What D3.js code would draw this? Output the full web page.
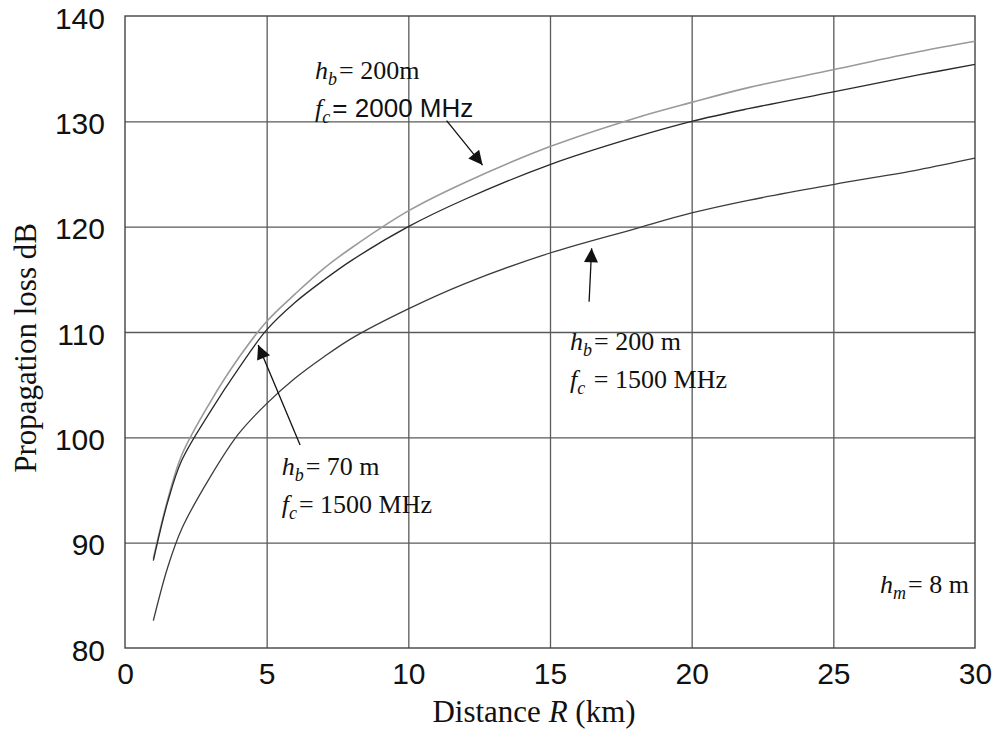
<!DOCTYPE html>
<html>
<head>
<meta charset="utf-8">
<script src="https://cdn.jsdelivr.net/npm/d3@7"></script>
<style>
body { margin: 0; background: #fff; }
.grid line { stroke: #5a5a5a; stroke-width: 1.3; }
.grid .domain { display: none; }
.tick text { font-family: "Liberation Sans", Arial, sans-serif; font-size: 30px; fill: #111; }
.frame { fill: none; stroke: #444; stroke-width: 1.4; }
.ann { font-family: "Liberation Serif", "Times New Roman", serif; font-size: 26px; fill: #111; }
.title { font-family: "Liberation Serif", "Times New Roman", serif; font-size: 31px; fill: #111; }
</style>
</head>
<body>
<script>
var WIDTH = 999, HEIGHT = 733;
var LEFT = 125, RIGHT = 975, TOP = 16, BOTTOM = 648;

// distance R in km
var distance = [1, 1.5, 2, 3, 4, 5, 6, 7, 8, 10, 12, 15, 18, 20, 22, 25, 28, 30];
// propagation loss (dB)
var lossHb200Fc2000 = [88.5, 94.0, 98.3, 103.3, 107.5, 111.0, 113.6, 116.0, 118.0, 121.5, 124.2, 127.6, 130.3, 131.8, 133.2, 134.9, 136.6, 137.6];
var lossHb70Fc1500 = [88.3, 93.8, 97.8, 102.4, 106.5, 110.2, 112.8, 114.9, 116.8, 120.0, 122.6, 125.9, 128.5, 130.0, 131.2, 132.8, 134.4, 135.4];
var lossHb200Fc1500 = [82.6, 87.6, 91.3, 96.2, 100.3, 103.2, 105.6, 107.6, 109.4, 112.2, 114.6, 117.5, 119.8, 121.3, 122.5, 124.0, 125.4, 126.5];

var xTicks = [0, 5, 10, 15, 20, 25, 30];
var yTicks = [80, 90, 100, 110, 120, 130, 140];

var _xScale, _yScale, _svg;

var createChart = function(){
    _xScale = d3.scaleLinear().domain([0, 30]).range([LEFT, RIGHT]);
    _yScale = d3.scaleLinear().domain([80, 140]).range([BOTTOM, TOP]);

    _svg = d3.select('body').append('svg')
        .attr('width', WIDTH)
        .attr('height', HEIGHT);

    var defs = _svg.append('defs');
    defs.append('marker')
        .attr('id', 'head')
        .attr('viewBox', '0 0 10 10')
        .attr('refX', 10).attr('refY', 5)
        .attr('markerUnits', 'userSpaceOnUse')
        .attr('markerWidth', 20).attr('markerHeight', 14)
        .attr('orient', 'auto')
        .append('path')
        .attr('d', 'M0,0 L10,5 L0,10 Z')
        .attr('fill', '#111');

    generateAxis();
    createLines();
    createAnnotations();
};

var generateAxis = function(){
    // vertical grid + x labels
    var xg = _svg.append('g')
        .attr('class', 'grid')
        .attr('transform', 'translate(0,' + BOTTOM + ')')
        .call(d3.axisBottom(_xScale).tickValues(xTicks).tickSize(-(BOTTOM - TOP)).tickPadding(15));
    xg.selectAll('.tick line').filter(function(d){ return d === 0 || d === 30; }).remove();

    var yg = _svg.append('g')
        .attr('class', 'grid')
        .attr('transform', 'translate(' + LEFT + ',0)')
        .call(d3.axisLeft(_yScale).tickValues(yTicks).tickSize(-(RIGHT - LEFT)).tickPadding(20));
    yg.selectAll('.tick line').filter(function(d){ return d === 80 || d === 140; }).remove();
    yg.selectAll('.tick text').attr('dy', '0.4em');

    _svg.append('rect').classed('frame', true)
        .attr('x', LEFT).attr('y', TOP)
        .attr('width', RIGHT - LEFT).attr('height', BOTTOM - TOP);

    var xt = _svg.append('text').classed('title', true)
        .attr('x', 534).attr('y', 722)
        .attr('text-anchor', 'middle');
    xt.append('tspan').text('Distance ');
    xt.append('tspan').attr('font-style', 'italic').text('R');
    xt.append('tspan').text(' (km)');

    _svg.append('text').classed('title', true)
        .attr('transform', 'translate(36,348) rotate(-90)')
        .attr('text-anchor', 'middle')
        .text('Propagation loss dB');
};

var createLines = function(){
    var series = [
        {values: lossHb200Fc2000, color: '#9a9a9a', width: 1.6},
        {values: lossHb70Fc1500, color: '#2a2a2a', width: 1.3},
        {values: lossHb200Fc1500, color: '#3c3c3c', width: 1.3}
    ];

    var line = d3.line()
        .x(function(d){ return _xScale(d[0]); })
        .y(function(d){ return _yScale(d[1]); })
        .curve(d3.curveCatmullRom.alpha(0.5));

    _svg.append('g').selectAll('path').data(series)
        .enter()
        .append('path')
            .attr('fill', 'none')
            .attr('stroke', function(s){ return s.color; })
            .attr('stroke-width', function(s){ return s.width; })
            .attr('d', function(s){ return line(d3.zip(distance, s.values)); });
};

// text label with italic symbol and subscript
var symbolLine = function(g, x, y, sym, sub, rest, restFont){
    var t = g.append('text').classed('ann', true)
        .attr('x', _xScale(x)).attr('y', _yScale(y));
    t.append('tspan').attr('font-style', 'italic').text(sym);
    t.append('tspan').attr('font-style', 'italic')
        .attr('font-size', '18px').attr('dy', 6).text(sub);
    var r = t.append('tspan').attr('dy', -6).attr('dx', 2).text(rest);
    if (restFont) r.attr('font-family', restFont);
};

var arrow = function(g, x1, y1, x2, y2){
    g.append('line')
        .attr('x1', _xScale(x1)).attr('y1', _yScale(y1))
        .attr('x2', _xScale(x2)).attr('y2', _yScale(y2))
        .attr('stroke', '#111').attr('stroke-width', 1.3)
        .attr('marker-end', 'url(#head)');
};

var createAnnotations = function(){
    var g = _svg.append('g');
    var sans = '"Liberation Sans", Arial, sans-serif';

    symbolLine(g, 6.71, 134.0, 'h', 'b', '= 200m');
    symbolLine(g, 6.71, 130.4, 'f', 'c', '= 2000 MHz', sans);
    arrow(g, 11.35, 130.06, 12.62, 125.85);

    symbolLine(g, 5.53, 96.4, 'h', 'b', '= 70 m');
    symbolLine(g, 5.53, 92.8, 'f', 'c', '= 1500 MHz');
    arrow(g, 6.18, 99.27, 4.7, 108.77);

    symbolLine(g, 15.71, 108.3, 'h', 'b', '= 200 m');
    symbolLine(g, 15.71, 104.7, 'f', 'c', ' = 1500 MHz');
    arrow(g, 16.38, 112.88, 16.47, 117.95);

    symbolLine(g, 26.65, 85.2, 'h', 'm', '= 8 m');
};

createChart();
</script>
</body>
</html>
